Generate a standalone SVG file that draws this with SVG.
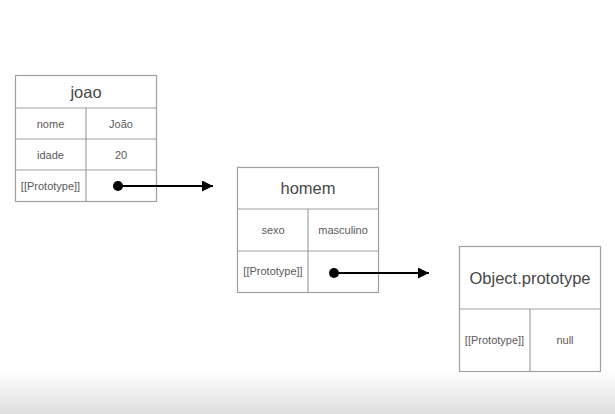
<svg xmlns="http://www.w3.org/2000/svg" width="615" height="414" viewBox="0 0 615 414">
<defs>
<linearGradient id="fade" x1="0" y1="0" x2="0" y2="1">
<stop offset="0" stop-color="#ffffff"/>
<stop offset="1" stop-color="#dedede"/>
</linearGradient>
<marker id="arrow" viewBox="0 0 10 10" refX="10" refY="5" markerWidth="5.5" markerHeight="5" orient="auto" markerUnits="strokeWidth">
<path d="M0,0 L10,5 L0,10 z" fill="#000"/>
</marker>
<style>
.box{fill:#fff;stroke:#a0a0a0;stroke-width:1.2}
.ln{stroke:#a0a0a0;stroke-width:1.2}
.title{font-family:"Liberation Sans",Arial,sans-serif;font-size:16.5px;fill:#484848;text-anchor:middle}
.lbl{font-family:"Liberation Sans",Arial,sans-serif;font-size:11px;fill:#5a5a5a;text-anchor:middle}
.conn{stroke:#000;stroke-width:2.2;fill:none}
</style>
</defs>
<rect x="0" y="0" width="615" height="414" fill="#fff"/>
<rect x="0" y="372" width="615" height="42" fill="url(#fade)"/>

<g id="joao">
<rect class="box" x="15.5" y="75.5" width="141" height="126"/>
<line class="ln" x1="15.5" y1="108" x2="156.5" y2="108"/>
<line class="ln" x1="15.5" y1="139" x2="156.5" y2="139"/>
<line class="ln" x1="15.5" y1="170" x2="156.5" y2="170"/>
<line class="ln" x1="86" y1="108" x2="86" y2="201.5"/>
<text class="title" x="86" y="98">joao</text>
<text class="lbl" x="50.5" y="128">nome</text>
<text class="lbl" x="121" y="128">João</text>
<text class="lbl" x="50.5" y="159">idade</text>
<text class="lbl" x="121" y="159">20</text>
<text class="lbl" x="50.5" y="190">[[Prototype]]</text>
</g>

<g id="homem">
<rect class="box" x="237.5" y="167.5" width="141" height="125"/>
<line class="ln" x1="237.5" y1="209" x2="378.5" y2="209"/>
<line class="ln" x1="237.5" y1="251" x2="378.5" y2="251"/>
<line class="ln" x1="308" y1="209" x2="308" y2="292.5"/>
<text class="title" x="308" y="194">homem</text>
<text class="lbl" x="273" y="234">sexo</text>
<text class="lbl" x="343" y="234">masculino</text>
<text class="lbl" x="273" y="275">[[Prototype]]</text>
</g>

<g id="object-prototype">
<rect class="box" x="459.5" y="246.5" width="141" height="125"/>
<line class="ln" x1="459.5" y1="309" x2="600.5" y2="309"/>
<line class="ln" x1="530" y1="309" x2="530" y2="371.5"/>
<text class="title" x="530" y="284">Object.prototype</text>
<text class="lbl" x="494.5" y="344">[[Prototype]]</text>
<text class="lbl" x="565" y="344">null</text>
</g>

<g id="connectors">
<circle cx="118" cy="186" r="5" fill="#000"/>
<line class="conn" x1="118" y1="186" x2="213" y2="186" marker-end="url(#arrow)"/>
<circle cx="334" cy="273" r="5" fill="#000"/>
<line class="conn" x1="334" y1="273" x2="429" y2="273" marker-end="url(#arrow)"/>
</g>
</svg>
